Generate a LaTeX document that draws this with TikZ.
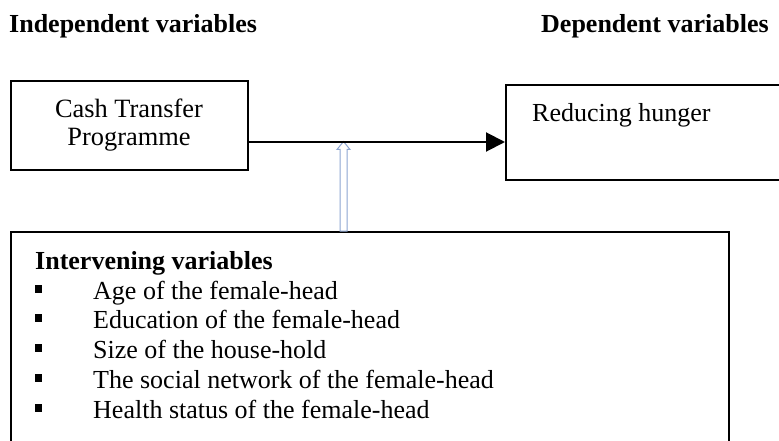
\documentclass[tikz,border=0pt]{standalone}
\usepackage{fontspec}
\setmainfont{Liberation Serif}
\usetikzlibrary{arrows.meta,calc}
\definecolor{arrowblue}{RGB}{140,165,210}
\tikzset{
  box/.style={draw=black, line width=2pt, inner sep=0pt, fill=none},
  txt/.style={anchor=base west, inner sep=0pt, font=\fontsize{26}{30}\selectfont},
  ctxt/.style={anchor=base, inner sep=0pt, font=\fontsize{26.4}{30}\selectfont},
  head/.style={anchor=base west, inner sep=0pt, font=\fontsize{26}{30}\selectfont\bfseries},
  sqbullet/.style={fill=black, draw=none, minimum width=7pt, minimum height=7.5pt, inner sep=0pt},
  flow/.style={line width=2pt, -{Triangle[length=19pt,width=19pt]}},
  hollow/.style={draw=arrowblue, line width=1pt, fill=white, line join=miter}
}
\begin{document}
\begin{tikzpicture}[x=1pt,y=-1pt]
\useasboundingbox (0,0) rectangle (779,441);
\clip (0,0) rectangle (779,441);
% headers
\node[head] (indep) at (9,33) {Independent variables};
\node[head] (dep) at (541,33) {Dependent variables};
% boxes
\node[box, minimum width=237pt, minimum height=89pt] (cash) at (129,125.5) {};
\node[box, minimum width=280pt, minimum height=95pt] (hunger) at (646,132.5) {};
\node[box, minimum width=718pt, minimum height=240pt] (inter) at (370,352) {};
% box texts
\node[ctxt] (cash1) at (129,118) {Cash Transfer};
\node[ctxt] (cash2) at (129,146) {Programme};
\node[txt] (hungertxt) at (532,122) {Reducing hunger};
% connectors
\coordinate (ah) at (0,142);
\coordinate (btip) at (343.5,141.5);
\draw[hollow] (btip) -- ++(6.5,8) -- ++(-3,0) -- ($(btip |- inter.north)+(3.5,0)$)
  -- ($(btip |- inter.north)+(-3.5,0)$) -- ($(btip)+(-3.5,8)$) -- ++(-3,0) -- cycle;
\draw[flow] (cash.east |- ah) -- (hunger.west |- ah);
% intervening list
\node[txt, font=\fontsize{26}{30}\selectfont\bfseries] (ivtitle) at (35,269) {Intervening variables};
\node[sqbullet] (b1) at (38.5,289) {};
\node[txt] (i1) at (93,299) {Age of the female-head};
\node[sqbullet] (b2) at (38.5,318) {};
\node[txt] (i2) at (93,328) {Education of the female-head};
\node[sqbullet] (b3) at (38.5,348) {};
\node[txt] (i3) at (93,358) {Size of the house-hold};
\node[sqbullet] (b4) at (38.5,378) {};
\node[txt] (i4) at (93,388) {The social network of the female-head};
\node[sqbullet] (b5) at (38.5,408) {};
\node[txt] (i5) at (93,418) {Health status of the female-head};
\end{tikzpicture}
\end{document}
